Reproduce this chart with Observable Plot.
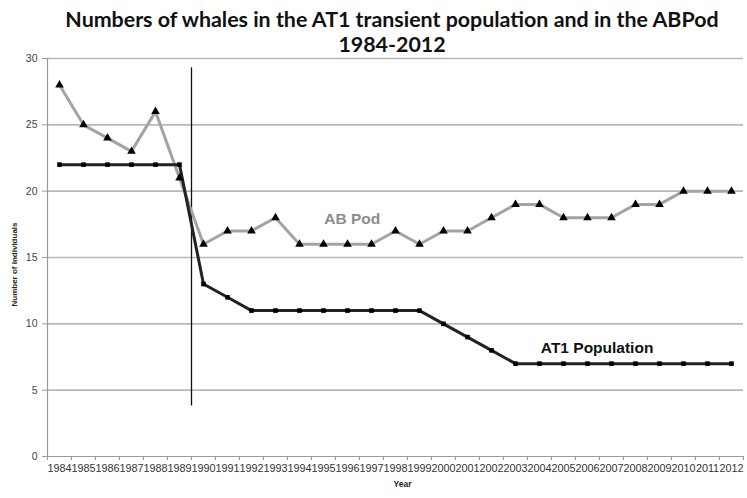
<!DOCTYPE html>
<html><head><meta charset="utf-8">
<script src="https://cdn.jsdelivr.net/npm/d3@7"></script>
<script src="https://cdn.jsdelivr.net/npm/@observablehq/plot@0.6"></script>
<style>
body{margin:0;background:#fff;}
#wrap{position:relative;width:747px;height:498px;overflow:hidden;}
#title{position:absolute;left:17px;top:7px;width:750px;text-align:center;font:bold 21.4px Lato,"Open Sans",sans-serif;line-height:25px;color:#111;}
</style></head><body>
<div id="wrap"><div id="title">Numbers of whales in the AT1 transient population and in the ABPod<br>1984-2012</div><div id="chart"></div></div>
<script>
const years = [1984,1985,1986,1987,1988,1989,1990,1991,1992,1993,1994,1995,1996,1997,1998,1999,2000,2001,2002,2003,2004,2005,2006,2007,2008,2009,2010,2011,2012];
const abPod = [28,25,24,23,26,21,16,17,17,18,16,16,16,16,17,16,17,17,18,19,19,18,18,18,19,19,20,20,20];
const at1 = [22,22,22,22,22,22,13,12,11,11,11,11,11,11,11,11,10,9,8,7,7,7,7,7,7,7,7,7,7];
const yTicks = [0,5,10,15,20,25,30];
const dividerYear = 1989.5;
const dividerRange = [3.8, 29.3];
const abLabel = {name: "AB Pod", year: 1996.2, value: 17.9};
const atLabel = {name: "AT1 Population", year: 2006.4, value: 8.2};

const ab = years.map((y, i) => ({year: y, value: abPod[i]}));
const at = years.map((y, i) => ({year: y, value: at1[i]}));
const boundaries = [years[0] - 0.5, ...years.map(y => y + 0.5)];

const chart = Plot.plot({
  width: 747, height: 498,
  marginTop: 58, marginBottom: 42, marginLeft: 47, marginRight: 4,
  style: {fontFamily: "'Liberation Sans', Arial, sans-serif", background: "transparent"},
  x: {domain: [years[0] - 0.5, years[years.length - 1] + 0.5]},
  y: {domain: [0, 30]},
  marks: [
    Plot.gridY(yTicks.filter(d => d > 0), {stroke: "#b8b8b8", strokeOpacity: 1, strokeWidth: 1.6}),
    Plot.axisY({ticks: yTicks, tickSize: 5, tickPadding: 5, fontSize: 10.5, color: "#444", stroke: "#999", label: null}),
    Plot.ruleX([years[0] - 0.5], {stroke: "#999", strokeWidth: 1.2}),
    Plot.ruleY([0], {stroke: "#999", strokeWidth: 1.2}),
    Plot.axisX({ticks: boundaries, tickSize: 4, tickFormat: () => "", stroke: "#999", label: null}),
    Plot.axisX({ticks: years, tickSize: 0, tickPadding: 8, tickFormat: d => String(d), fontSize: 10.8, color: "#333", label: null}),
    Plot.text(["Number of individuals"], {frameAnchor: "left", textAnchor: "middle", dx: -33, dy: 7, rotate: -90, fontSize: 8, fontWeight: "bold", fill: "#222"}),
    Plot.text(["Year"], {frameAnchor: "bottom", dx: 7, dy: 30, fontSize: 8.5, fontWeight: "bold", fill: "#222"}),
    Plot.ruleX([dividerYear], {y1: dividerRange[0], y2: dividerRange[1], stroke: "#111", strokeWidth: 1.3}),
    Plot.line(ab, {x: "year", y: "value", stroke: "#a3a3a3", strokeWidth: 3}),
    Plot.line(at, {x: "year", y: "value", stroke: "#222", strokeWidth: 3}),
    Plot.dot(ab, {x: "year", y: "value", symbol: "triangle", r: 3.2, fill: "#000", stroke: "none"}),
    Plot.dot(at, {x: "year", y: "value", symbol: "square", r: 2.6, fill: "#000", stroke: "none"}),
    Plot.text([abLabel], {x: "year", y: "value", text: "name", fill: "#8c8c8c", fontSize: 15.5, fontWeight: "bold"}),
    Plot.text([atLabel], {x: "year", y: "value", text: "name", fill: "#111", fontSize: 15.5, fontWeight: "bold"})
  ]
});
document.getElementById("chart").appendChild(chart);
</script>
</body></html>
